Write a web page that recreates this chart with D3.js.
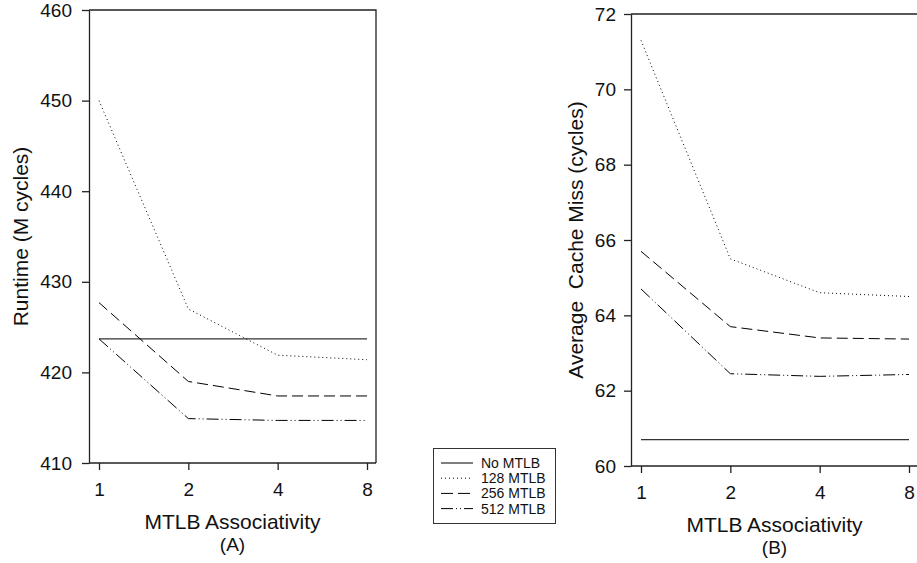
<!DOCTYPE html>
<html>
<head>
<meta charset="utf-8">
<script src="https://cdn.jsdelivr.net/npm/d3@7"></script>
<style>
    body { margin: 0; background: #fff; }
    svg { font-family: "Liberation Sans", Arial, sans-serif; }
    .axis path, .axis line { stroke: #222; stroke-width: 1.3; }
    .axis text { font-size: 19px; fill: #111; }
    .label { font-size: 21px; fill: #111; }
    .tag { font-size: 19px; fill: #111; }
    .legend text { font-size: 14px; fill: #111; }
</style>
</head>
<body>
<svg id="chart" width="917" height="563"></svg>
<script>
// data
const assoc = ["1", "2", "4", "8"];
const seriesNames = ["No MTLB", "128 MTLB", "256 MTLB", "512 MTLB"];
const dashes = [null, "1,3", "11,5", "12,3,1,3,1,3"];

const runtimeNo = [423.7, 423.7, 423.7, 423.7];
const runtime128 = [450.0, 427.0, 421.9, 421.4];
const runtime256 = [427.7, 419.0, 417.4, 417.4];
const runtime512 = [423.7, 414.9, 414.7, 414.7];
const runtimeTicks = [410, 420, 430, 440, 450, 460];

const missNo = [60.7, 60.7, 60.7, 60.7];
const miss128 = [71.3, 65.5, 64.6, 64.5];
const miss256 = [65.7, 63.7, 63.4, 63.37];
const miss512 = [64.7, 62.45, 62.38, 62.43];
const missTicks = [60, 62, 64, 66, 68, 70, 72];

const svg = d3.select("#chart");

function makepanel(box, series, yDomain, yTicks, yTitle, yTitleX, tag){
    const xScale = d3.scalePoint()
        .domain(assoc)
        .range([box.left + 10, box.right - 9]);

    const yScale = d3.scaleLinear()
        .domain(yDomain)
        .range([box.bottom, box.top]);

    const g = svg.append("g");

    // frame (top and right)
    g.append("path")
        .attr("d", `M${box.left},${box.top}H${box.right}V${box.bottom}`)
        .attr("fill", "none")
        .attr("stroke", "#222")
        .attr("stroke-width", 1.3);

    g.append("g")
        .attr("class", "axis")
        .attr("transform", `translate(${box.left},0)`)
        .call(d3.axisLeft(yScale).tickValues(yTicks).tickSize(7).tickPadding(box.yPad).tickSizeOuter(0));

    g.append("g")
        .attr("class", "axis")
        .attr("transform", `translate(0,${box.bottom})`)
        .call(d3.axisBottom(xScale).tickSize(7).tickPadding(13).tickSizeOuter(0))
        .call(a => a.select(".domain").attr("d", `M${box.left},0H${box.right}`));

    const line = d3.line()
        .x((d, i) => xScale(assoc[i]))
        .y(d => yScale(d));

    series.forEach(function(s, i){
        g.append("path")
            .attr("d", line(s))
            .attr("fill", "none")
            .attr("stroke", i === 0 ? "#333" : "#000")
            .attr("stroke-width", i === 0 ? 1.3 : 1)
            .attr("stroke-dasharray", dashes[i]);
    });

    const cx = (box.left + box.right) / 2;
    g.append("text")
        .attr("class", "label")
        .attr("x", cx)
        .attr("y", box.bottom + 66)
        .attr("text-anchor", "middle")
        .text("MTLB Associativity");
    g.append("text")
        .attr("class", "tag")
        .attr("x", cx)
        .attr("y", box.bottom + 88)
        .attr("text-anchor", "middle")
        .text(tag);

    g.append("text")
        .attr("class", "label")
        .attr("transform", `translate(${yTitleX},${(box.top + box.bottom) / 2}) rotate(-90)`)
        .attr("text-anchor", "middle")
        .attr("xml:space", "preserve")
        .style("white-space", "pre")
        .text(yTitle);
}

makepanel({left: 89, right: 376, top: 10, bottom: 463, yPad: 10},
    [runtimeNo, runtime128, runtime256, runtime512],
    [410, 460], runtimeTicks, "Runtime (M cycles)", 28, "(A)");

makepanel({left: 631, right: 918, top: 14, bottom: 466, yPad: 8},
    [missNo, miss128, miss256, miss512],
    [60, 72], missTicks, "Average  Cache Miss (cycles)", 583, "(B)");

// legend
const legend = svg.append("g").attr("class", "legend");
legend.append("rect")
    .attr("x", 433.5)
    .attr("y", 448.5)
    .attr("width", 122)
    .attr("height", 75)
    .attr("fill", "#fff")
    .attr("stroke", "#333")
    .attr("stroke-width", 1);

seriesNames.forEach(function(name, i){
    const y = 463 + i * 15.2;
    legend.append("line")
        .attr("x1", 441)
        .attr("x2", 473)
        .attr("y1", y)
        .attr("y2", y)
        .attr("stroke", "#000")
        .attr("stroke-width", 1)
        .attr("stroke-dasharray", i === 3 ? "12,3,1,3,1,3" : i === 2 ? "12,5" : dashes[i]);
    legend.append("text")
        .attr("x", 481)
        .attr("y", y)
        .attr("dy", "0.36em")
        .text(name);
});
</script>
</body>
</html>
